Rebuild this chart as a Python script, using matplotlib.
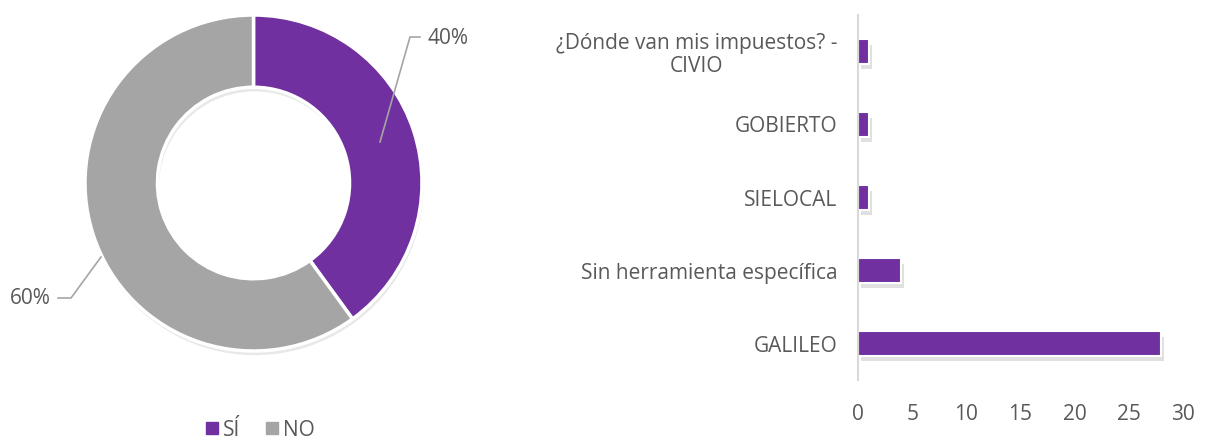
import matplotlib
matplotlib.use("Agg")
import matplotlib.pyplot as plt
import matplotlib.patheffects as pe

plt.rcParams['font.family'] = ['Open Sans', 'DejaVu Sans']

# ---- data ----
pie_labels = ['SÍ', 'NO']
pie_values = [40, 60]
pie_colors = ['#7030A0', '#A5A5A5']

bar_categories = ['GALILEO', 'Sin herramienta específica', 'SIELOCAL', 'GOBIERTO',
                  '¿Dónde van mis impuestos? -\nCIVIO']
bar_values = [28, 4, 1, 1, 1]
x_ticks = [0, 5, 10, 15, 20, 25, 30]

TEXT = '#595959'
FS = 15
W, H = 1205, 441
fig = plt.figure(figsize=(W / 100, H / 100), dpi=100)

def px_axes(l, t, r, b):
    return fig.add_axes([l / W, 1 - b / H, (r - l) / W, (b - t) / H])

# ---- donut ----
ax1 = px_axes(85, 15, 422, 351)
shadow = [pe.SimplePatchShadow(offset=(1, -3), alpha=0.15, shadow_rgbFace='#666666'), pe.Normal()]
wedges, _ = ax1.pie(pie_values, colors=pie_colors, startangle=90, counterclock=False,
                    radius=1.0,
                    wedgeprops=dict(width=0.43, edgecolor='white', linewidth=2.5))
for w in wedges:
    w.set_path_effects(shadow)
ax1.set_xlim(-1, 1)
ax1.set_ylim(-1, 1)
ax1.set_aspect('auto')
ax1.axis('off')

# data labels with leader lines (figure pixel coordinates)
def fx(x): return x / W
def fy(y): return 1 - y / H
fig.add_artist(plt.Line2D([fx(380), fx(410), fx(420)], [fy(142), fy(37), fy(37)],
                          color='#A5A5A5', lw=1.2))
fig.text(fx(428), fy(38), f'{pie_values[0]}%', ha='left', va='center', fontsize=FS, color=TEXT)
fig.add_artist(plt.Line2D([fx(101), fx(71), fx(58)], [fy(257), fy(298), fy(298)],
                          color='#A5A5A5', lw=1.2))
fig.text(fx(51), fy(299), f'{pie_values[1]}%', ha='right', va='center', fontsize=FS, color=TEXT)

# legend
handles = [plt.Line2D([0], [0], marker='s', linestyle='', markersize=8,
                      markerfacecolor=c, markeredgecolor=c) for c in pie_colors]
fig.legend(handles, pie_labels, loc='center', bbox_to_anchor=(fx(258), fy(430)),
           ncol=2, frameon=False, fontsize=FS, handletextpad=0.05, columnspacing=1.0,
           labelcolor=TEXT, handlelength=1.0)

# ---- bars ----
ax2 = px_axes(858, 15, 1183, 380)
bshadow = [pe.SimplePatchShadow(offset=(2, -4), alpha=0.18, shadow_rgbFace='#555555'), pe.Normal()]
bars = ax2.barh(range(len(bar_categories)), bar_values, height=0.34, color='#7030A0',
                edgecolor='white', linewidth=1.5)
for b in bars:
    b.set_path_effects(bshadow)
ax2.set_xlim(0, 30)
ax2.set_ylim(-0.5, len(bar_categories) - 0.5)
ax2.set_xticks(x_ticks)
ax2.set_xticklabels([str(t) for t in x_ticks])
ax2.set_yticks(range(len(bar_categories)))
ax2.set_yticklabels(bar_categories, multialignment='center', linespacing=1.1)
ax2.tick_params(axis='both', length=0, labelsize=FS, labelcolor=TEXT)
ax2.tick_params(axis='y', pad=15)
ax2.tick_params(axis='x', pad=17)
for s in ['top', 'right', 'bottom']:
    ax2.spines[s].set_visible(False)
ax2.spines['left'].set_color('#D9D9D9')
ax2.spines['left'].set_linewidth(1.5)

fig.savefig('out.png', dpi=100, facecolor='white')
